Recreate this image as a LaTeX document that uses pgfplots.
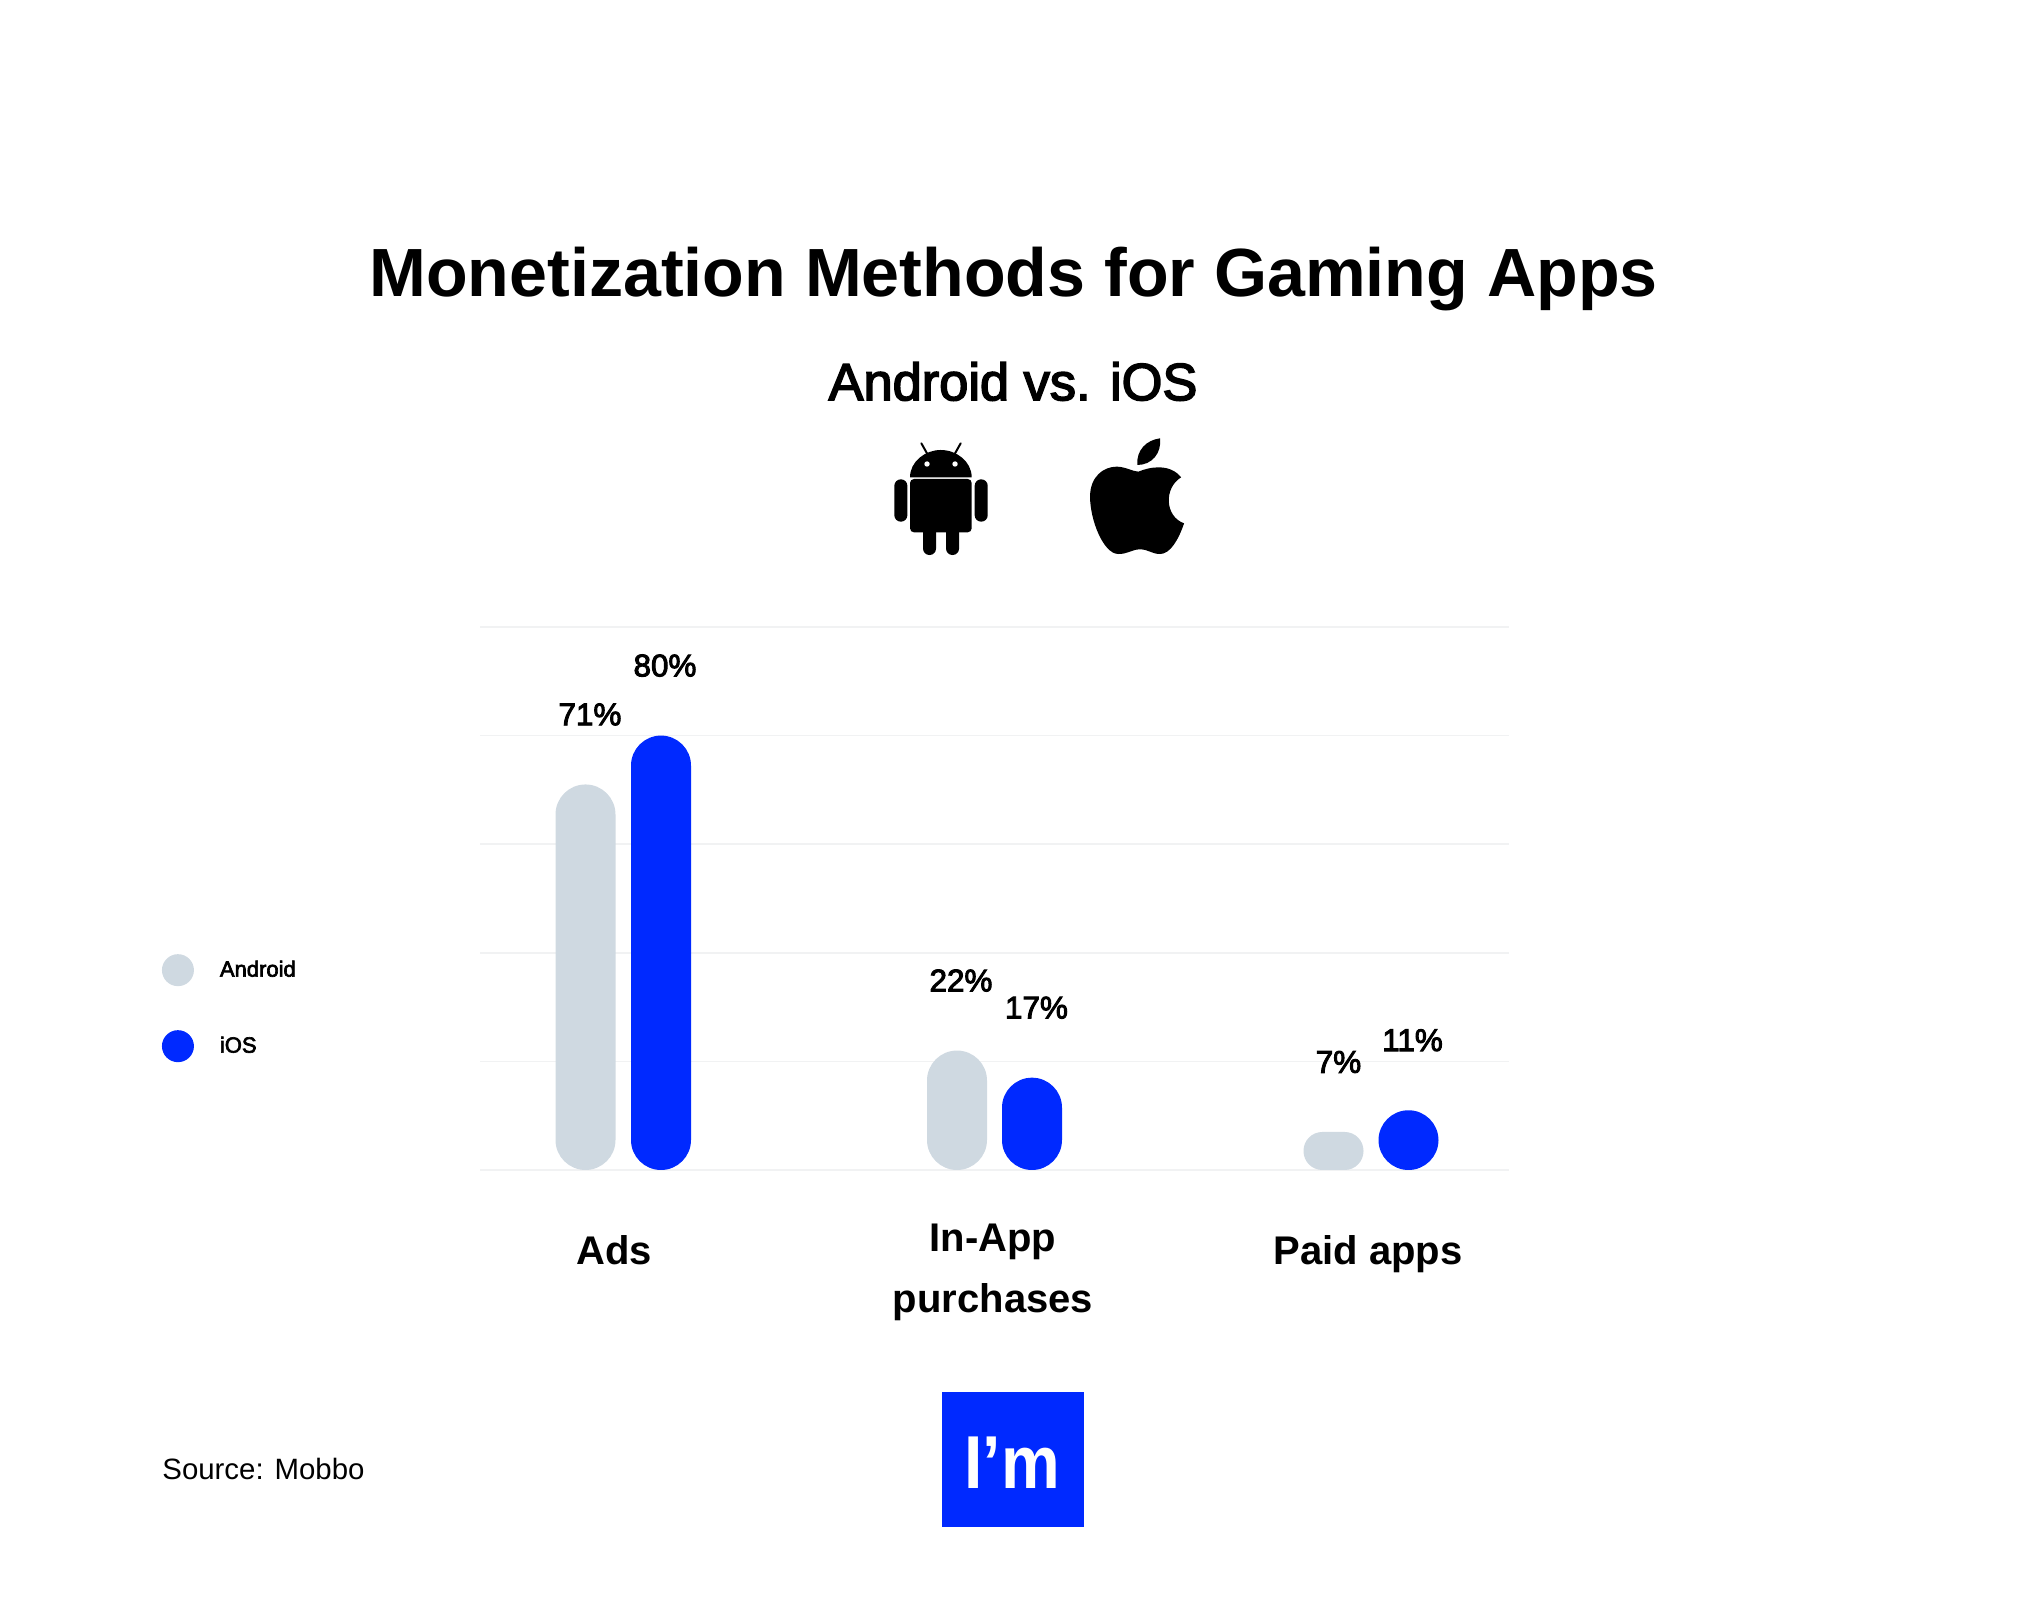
\documentclass[border=0pt]{standalone}
\usepackage{pgfplots}
\usepackage{fontspec}
\pgfplotsset{compat=1.18}
\setmainfont{Liberation Sans}
\newfontfamily\med[FakeBold=3]{Liberation Sans}
\definecolor{gr}{HTML}{CFD9E1}
\definecolor{bl}{HTML}{0029FF}
\definecolor{gl}{HTML}{F1F2F3}
\begin{document}
\begin{tikzpicture}
\path[use as bounding box] (0pt,0pt) rectangle (1012.5pt,802.5pt);
\begin{axis}[
  at={(240pt,217.5pt)},anchor=south west,
  scale only axis,width=514.5pt,height=271.5pt,
  xmin=480,xmax=1509,ymin=0,ymax=100,
  /pgf/number format/assume math mode=true,
  ytick={0,20,40,60,80,100},yticklabels={},
  ymajorgrids,major grid style={gl,line width=0.8pt},
  axis line style={draw=none},tick style={draw=none},
  xtick={614,993,1368},
  xticklabels={Ads,{\raisebox{8.75pt}[\height][\depth]{\begin{tabular}[t]{@{}c@{}}In-App\\[6.5pt]purchases\end{tabular}}},Paid apps},
  xticklabel style={font=\fontsize{20}{24}\selectfont\bfseries,anchor=north,yshift=-29pt},
  clip=false,
  legend cell align=left,
  legend style={at={(-0.3153,0.298)},anchor=west,draw=none,fill=none,row sep=22pt,
    font=\fontsize{11}{13}\selectfont\med},
]
\addplot[ybar,bar shift=0pt,bar width=30pt,fill=gr,draw=none,rounded corners=15pt,
  legend image code/.code={\fill[gr] (8pt,0pt) circle (8pt);\path (27pt,0pt);}]
  coordinates {(585.5,71) (957,22)};
\addplot[ybar,bar shift=0pt,bar width=30pt,fill=bl,draw=none,rounded corners=15pt,
  legend image code/.code={\fill[bl] (8pt,0pt) circle (8pt);\path (27pt,0pt);}]
  coordinates {(661,80) (1032,17) (1408.5,11)};
\legend{Android,iOS}
\addplot[forget plot,ybar,bar shift=0pt,bar width=30pt,fill=gr,draw=none,rounded corners=9.4pt]
  coordinates {(1333.5,7)};
\addplot[forget plot,draw=none,mark=none,nodes near coords={\pgfmathprintnumber{\pgfplotspointmeta}\%},
  every node near coord/.style={anchor=center,yshift=35pt,black,font=\fontsize{15.7}{19}\selectfont\med}]
  coordinates {(590,71) (961,22) (1338.5,7) (665,80) (1036.5,17) (1412.5,11)};
\end{axis}
\begin{scope}[shift={(0pt,802.5pt)},x=0.5pt,y=-0.5pt]
\node[font=\fontsize{34.1}{42}\selectfont\bfseries] at (1013.5,279) {Monetization Methods for Gaming Apps};
\node[font=\fontsize{26.2}{31}\selectfont\med] at (1013,381.5) {Android vs. iOS};
\node[anchor=west,inner sep=0pt,font=\fontsize{14.7}{18}\selectfont] at (162,1469) {Source: Mobbo};
\fill[bl] (942,1392) rectangle (1084,1527);
\node[white,xscale=0.88,font=\fontsize{37.5}{44}\selectfont\bfseries] at (1012,1463) {I’m};
\begin{scope}[shift={(850,420)},x=0.1667pt,y=-0.1667pt]
 % Android
 \fill[black,rounded corners=2pt] (180,177) -- (365,177) -- (365,337) -- (180,337) -- cycle;
 \fill[black] (180,172) .. controls (180,125) and (225,90) .. (272,90) .. controls (320,90) and (365,125) .. (365,172) -- cycle;
 \fill[white] (231,132) circle[radius=1.35pt];
 \fill[white] (315,132) circle[radius=1.35pt];
 \draw[black,line width=1pt,line cap=round] (214,70) -- (232,102);
 \draw[black,line width=1pt,line cap=round] (332,70) -- (314,102);
 \fill[black,rounded corners=3.2pt] (133,178) rectangle (172,305);
 \fill[black,rounded corners=3.2pt] (374,178) rectangle (413,305);
 \fill[black,rounded corners=3.2pt] (219,300) rectangle (258,405);
 \fill[black,rounded corners=3.2pt] (288,300) rectangle (327,405);
 % Apple
 \fill[black] (862,135) .. controls (858,90) and (890,60) .. (930,55) .. controls (935,100) and (905,135) .. (862,135) -- cycle;
 \fill[black] (865,155) .. controls (900,140) and (960,130) .. (993,172)
   .. controls (940,205) and (945,290) .. (1002,310)
   .. controls (985,360) and (960,402) .. (930,402)
   .. controls (905,402) and (895,388) .. (870,388)
   .. controls (845,388) and (835,402) .. (805,402)
   .. controls (760,402) and (720,300) .. (720,230)
   .. controls (720,170) and (760,140) .. (800,140)
   .. controls (825,140) and (850,155) .. (865,155) -- cycle;
\end{scope}
\end{scope}
\end{tikzpicture}
\end{document}
